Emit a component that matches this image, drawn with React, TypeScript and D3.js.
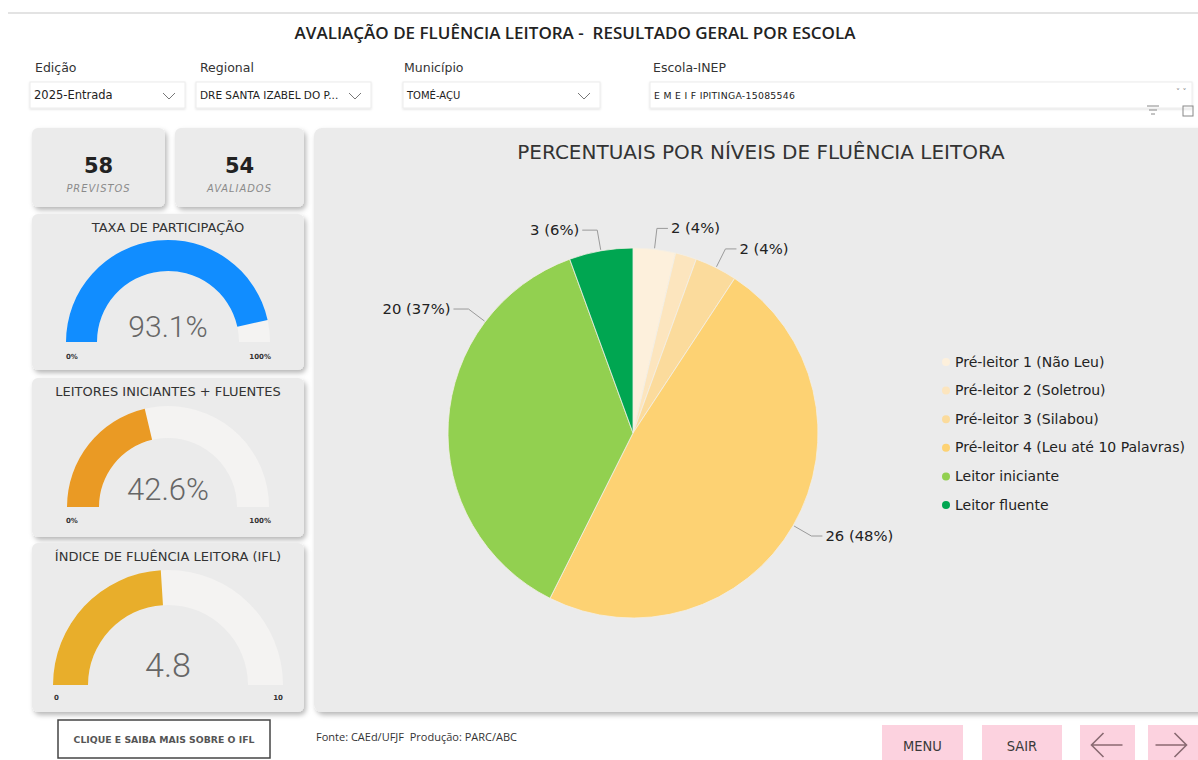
import React from 'react';
import * as d3 from 'd3';

// ---------- data ----------
const levelNames = [
  'Pré-leitor 1 (Não Leu)',
  'Pré-leitor 2 (Soletrou)',
  'Pré-leitor 3 (Silabou)',
  'Pré-leitor 4 (Leu até 10 Palavras)',
  'Leitor iniciante',
  'Leitor fluente',
];
const levelCounts = [2, 1, 2, 26, 20, 3];
const levelColors = ['#FDF0DC', '#FCE5BE', '#FBDB9C', '#FDD273', '#92D050', '#00A651'];
const labelShown = [true, false, true, true, true, true];

const kpiValues = [58, 54];
const kpiLabels = ['PREVISTOS', 'AVALIADOS'];

const gaugeTitles = ['TAXA DE PARTICIPAÇÃO', 'LEITORES INICIANTES + FLUENTES', 'ÍNDICE DE FLUÊNCIA LEITORA (IFL)'];
const gaugeValues = [93.1, 42.6, 4.8];
const gaugeMax = [100, 100, 10];
const gaugeValueLabels = ['93.1%', '42.6%', '4.8'];
const gaugeMinLabels = ['0%', '0%', '0'];
const gaugeMaxLabels = ['100%', '100%', '10'];
const gaugeColors = ['#118DFF', '#EA9A24', '#E8AE2B'];

const filterLabels = ['Edição', 'Regional', 'Município', 'Escola-INEP'];
const filterValues = ['2025-Entrada', 'DRE SANTA IZABEL DO P...', 'TOMÉ-AÇU', 'E M E I F IPITINGA-15085546'];

const navButtons = ['MENU', 'SAIR', '←', '→'];

// ---------- layout ----------
const FONT = "'DejaVu Sans', sans-serif";
const COND = "'DejaVu Sans Condensed', 'DejaVu Sans', sans-serif";
const LIGHT = "Roboto, 'Open Sans', sans-serif";
const PANEL = '#EBEBEB';

const filterBoxes = [
  { x: 30, w: 155, lx: 35 },
  { x: 196, w: 175, lx: 200 },
  { x: 403, w: 197, lx: 404 },
  { x: 650, w: 542, lx: 653 },
];
const filterValueSizes = [11.5, 10.5, 10, 9.3];
const gaugeLayout = [
  { y: 214, h: 156, cy: 342, R: 102, r: 71, titleY: 232, tickY: 359, valueY: 337, fs: 30 },
  { y: 378, h: 159, cy: 507, R: 101, r: 69, titleY: 396, tickY: 523, valueY: 500, fs: 31 },
  { y: 543, h: 169, cy: 685, R: 115, r: 80, titleY: 561, tickY: 700, valueY: 677, fs: 34 },
];
const navLayout = [
  { x: 882, w: 81 },
  { x: 982, w: 80 },
  { x: 1080, w: 55 },
  { x: 1148, w: 55 },
];

const PIE_CX = 633;
const PIE_CY = 433;
const PIE_R = 185;
// label anchor angle overrides (degrees clockwise from top)
const labelAngleOverride: Record<number, number> = { 4: 307 };

function Chevron({ x, y }: { x: number; y: number }) {
  return <path d={`M${x - 6},${y - 3} L${x},${y + 3} L${x + 6},${y - 3}`} fill="none" stroke="#777" strokeWidth={1} />;
}

export default function App() {
  const total = d3.sum(levelCounts);
  const pie = d3.pie<number>().sort(null).value((d) => d).startAngle(0).endAngle(Math.PI * 2);
  const arcs = pie(levelCounts);
  const arcGen = d3.arc<d3.PieArcDatum<number>>().innerRadius(0).outerRadius(PIE_R);
  const legendY = d3.scaleLinear().domain([0, levelNames.length - 1]).range([362, 505]);

  const pieLabels = arcs.map((a, i) => {
    if (!labelShown[i]) return null;
    const mid = labelAngleOverride[i] !== undefined ? (labelAngleOverride[i] * Math.PI) / 180 : (a.startAngle + a.endAngle) / 2;
    const p0 = [PIE_CX + (PIE_R + 1) * Math.sin(mid), PIE_CY - (PIE_R + 1) * Math.cos(mid)];
    const p1 = [PIE_CX + (PIE_R + 21) * Math.sin(mid), PIE_CY - (PIE_R + 21) * Math.cos(mid)];
    const right = Math.sin(mid) >= 0;
    const p2 = [p1[0] + (right ? 11 : -15), p1[1]];
    const pct = Math.round((levelCounts[i] / total) * 100);
    return (
      <g key={i}>
        <polyline points={`${p0[0]},${p0[1]} ${p1[0]},${p1[1]} ${p2[0]},${p2[1]}`} fill="none" stroke="#9a9a9a" strokeWidth={1} />
        <text
          x={p2[0] + (right ? 3 : -3)}
          y={p1[1] + 5}
          textAnchor={right ? 'start' : 'end'}
          fontSize={14.8}
          fill="#222"
          fontFamily={FONT}
        >
          {`${levelCounts[i]} (${pct}%)`}
        </text>
      </g>
    );
  });

  return (
    <svg width={1198} height={760} style={{ position: 'absolute', left: 0, top: 0, background: '#fff' }} fontFamily={FONT}>
      <defs>
        <filter id="shadow" x="-10%" y="-10%" width="125%" height="130%">
          <feDropShadow dx="2" dy="3" stdDeviation="2.5" floodColor="#000" floodOpacity="0.28" />
        </filter>
        <filter id="soft" x="-5%" y="-20%" width="110%" height="160%">
          <feDropShadow dx="0" dy="1" stdDeviation="1" floodColor="#000" floodOpacity="0.12" />
        </filter>
      </defs>
      <rect x={0} y={0} width={1198} height={760} fill="#fff" />
      <rect x={8} y={12} width={1190} height={2} fill="#e3e3e3" />

      {/* title */}
      <text
        x={575}
        y={39}
        textAnchor="middle"
        fontSize={17}
        fontWeight={600}
        fill="#222"
        fontFamily="'Open Sans', sans-serif"
        style={{ whiteSpace: 'pre' }}
      >
        {'AVALIAÇÃO DE FLUÊNCIA LEITORA -  RESULTADO GERAL POR ESCOLA'}
      </text>

      {/* filters */}
      {filterLabels.map((lab, i) => {
        const b = filterBoxes[i];
        return (
          <g key={lab}>
            <text x={b.lx} y={72} fontSize={12.5} fill="#333">{lab}</text>
            <rect x={b.x} y={82} width={b.w} height={26} fill="#fff" stroke="#ececec" strokeWidth={1} filter="url(#soft)" />
            <text x={b.x + 4} y={99} fontSize={filterValueSizes[i]} fill="#222" letterSpacing={i === 3 ? 0.3 : 0}>
              {filterValues[i]}
            </text>
            {i < 3 ? <Chevron x={b.x + b.w - 16} y={96} /> : null}
          </g>
        );
      })}
      <text x={1176} y={95} fontSize={8} fill="#888">˅ ˅</text>
      {/* small icons */}
      <g stroke="#888" strokeWidth={1}>
        <line x1={1147} y1={106} x2={1159} y2={106} />
        <line x1={1149} y1={110} x2={1157} y2={110} />
        <line x1={1151} y1={114} x2={1155} y2={114} />
        <rect x={1183} y={106} width={10} height={10} fill="none" />
      </g>

      {/* KPI cards */}
      {kpiValues.map((v, i) => {
        const x = i === 0 ? 32 : 175;
        const w = i === 0 ? 133 : 129;
        return (
          <g key={i}>
            <rect x={x} y={128} width={w} height={79} rx={6} fill={PANEL} filter="url(#shadow)" />
            <text x={x + w / 2} y={173} textAnchor="middle" fontSize={21} fontWeight={700} fill="#222">{v}</text>
            <text
              x={x + w / 2}
              y={192}
              textAnchor="middle"
              fontSize={11}
              fontStyle="italic"
              fill="#8a8a8a"
              fontFamily={COND}
              letterSpacing={1}
            >
              {kpiLabels[i]}
            </text>
          </g>
        );
      })}

      {/* gauges */}
      {gaugeTitles.map((t, i) => {
        const L = gaugeLayout[i];
        const cx = 168;
        const angle = d3.scaleLinear().domain([0, gaugeMax[i]]).range([-Math.PI / 2, Math.PI / 2]);
        const bg = d3.arc()({ innerRadius: L.r, outerRadius: L.R, startAngle: -Math.PI / 2, endAngle: Math.PI / 2 } as any) as string;
        const fg = d3.arc()({ innerRadius: L.r, outerRadius: L.R, startAngle: -Math.PI / 2, endAngle: angle(gaugeValues[i]) } as any) as string;
        return (
          <g key={t}>
            <rect x={32} y={L.y} width={272} height={L.h} rx={6} fill={PANEL} filter="url(#shadow)" />
            <text x={cx} y={L.titleY} textAnchor="middle" fontSize={13} fill="#333">{t}</text>
            <g transform={`translate(${cx},${L.cy})`}>
              <path d={bg} fill="#F4F3F2" />
              <path d={fg} fill={gaugeColors[i]} />
            </g>
            <text x={cx} y={L.valueY} textAnchor="middle" fontSize={L.fs} fontWeight={300} fill="#666" fontFamily={LIGHT}>
              {gaugeValueLabels[i]}
            </text>
            <text x={i === 2 ? 54 : 66} y={L.tickY} fontSize={7} fontWeight={700} fill="#333">{gaugeMinLabels[i]}</text>
            <text x={i === 2 ? 283 : 271} y={L.tickY} textAnchor="end" fontSize={7} fontWeight={700} fill="#333">{gaugeMaxLabels[i]}</text>
          </g>
        );
      })}

      {/* IFL button */}
      <rect x={58} y={720} width={212} height={38} fill="#fff" stroke="#444" strokeWidth={1.5} />
      <text x={164} y={743} textAnchor="middle" fontSize={9.3} fontWeight={700} fill="#555">CLIQUE E SAIBA MAIS SOBRE O IFL</text>

      <text x={316} y={741} fontSize={11} fill="#333" fontFamily="'Open Sans', sans-serif" style={{ whiteSpace: 'pre' }}>
        {'Fonte: CAEd/UFJF  Produção: PARC/ABC'}
      </text>

      {/* nav buttons */}
      {navButtons.map((b, i) => {
        const n = navLayout[i];
        const arrow = i >= 2;
        return (
          <g key={b}>
            <rect x={n.x} y={725} width={n.w} height={40} fill="#FCD2DF" />
            {arrow ? (
              <path
                d={
                  i === 2
                    ? `M${n.x + n.w / 2 + 15},${745} L${n.x + n.w / 2 - 15},${745} M${n.x + n.w / 2 - 4},${733} L${n.x + n.w / 2 - 16},${745} L${n.x + n.w / 2 - 4},${757}`
                    : `M${n.x + n.w / 2 - 20},${745} L${n.x + n.w / 2 + 10},${745} M${n.x + n.w / 2 - 1},${733} L${n.x + n.w / 2 + 11},${745} L${n.x + n.w / 2 - 1},${757}`
                }
                fill="none"
                stroke="#8a6a72"
                strokeWidth={1.6}
              />
            ) : (
              <text x={n.x + n.w / 2} y={751} textAnchor="middle" fontSize={14.5} fill="#3a3a3a" fontFamily={COND}>{b}</text>
            )}
          </g>
        );
      })}

      {/* main panel */}
      <rect x={314} y={128} width={900} height={584} rx={8} fill={PANEL} filter="url(#shadow)" />
      <text x={761} y={159} textAnchor="middle" fontSize={20} fill="#333">PERCENTUAIS POR NÍVEIS DE FLUÊNCIA LEITORA</text>

      <g transform={`translate(${PIE_CX},${PIE_CY})`}>
        {arcs.map((a, i) => (
          <path key={i} d={arcGen(a) as string} fill={levelColors[i]} stroke="#f3efe6" strokeWidth={0.8} />
        ))}
      </g>
      {pieLabels}

      {/* legend */}
      {levelNames.map((n, i) => (
        <g key={n}>
          <circle cx={946} cy={legendY(i)} r={4} fill={levelColors[i]} />
          <text x={955} y={legendY(i) + 4.5} fontSize={14} fill="#222">{n}</text>
        </g>
      ))}
    </svg>
  );
}
